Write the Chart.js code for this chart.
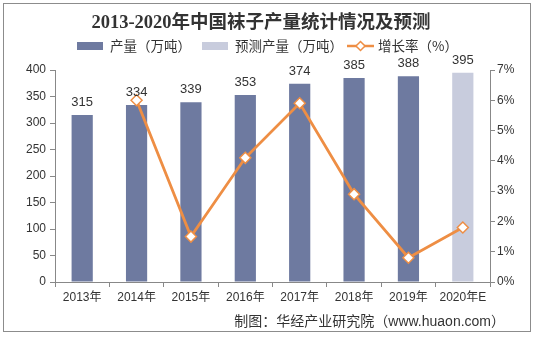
<!DOCTYPE html>
<html>
<head>
<meta charset="utf-8">
<script src="https://cdn.jsdelivr.net/npm/chart.js@4.4.0/dist/chart.umd.min.js"></script>
<style>
    html, body { margin: 0; padding: 0; background: #fff; }
    #wrap { width: 534px; height: 337px; position: relative; }
</style>
</head>
<body>
<div id="wrap"><canvas id="sockChart" width="534" height="337"></canvas></div>
<script>
const years = ['2013年', '2014年', '2015年', '2016年', '2017年', '2018年', '2019年', '2020年E'];
const output = [315, 334, 339, 353, 374, 385, 388, null];
const forecast = [null, null, null, null, null, null, null, 395];
const growth = [null, 6.0, 1.5, 4.1, 5.9, 2.9, 0.8, 1.8];
const leftTicks = [0, 50, 100, 150, 200, 250, 300, 350, 400];
const rightTicks = [0, 1, 2, 3, 4, 5, 6, 7];

const BAR = '#6E7AA0';
const BAR_E = '#C8CCDD';
const LINE = '#EE8E44';
const TXT = '#333333';
const FONT = "'Liberation Sans', Arial, 'Noto Sans CJK SC', sans-serif";

// 边框、标题、图例、数据标签、来源
const decor = {
    id: 'decor',
    afterDraw(chart) {
        const ctx = chart.ctx;
        ctx.save();
        ctx.strokeStyle = '#8c8c8c';
        ctx.lineWidth = 1;
        ctx.strokeRect(3.5, 3.5, 527, 328);

        ctx.fillStyle = '#333';
        ctx.font = "bold 18.5px 'Liberation Serif', 'DejaVu Serif', 'Noto Sans CJK SC', serif";
        ctx.textAlign = 'center';
        ctx.textBaseline = 'middle';
        ctx.fillText('2013-2020年中国袜子产量统计情况及预测', 261, 23);

        // legend
        ctx.font = "13.5px 'Noto Sans CJK SC', sans-serif";
        ctx.textAlign = 'left';
        ctx.fillStyle = BAR;
        ctx.fillRect(77, 42, 26, 8);
        ctx.fillStyle = BAR_E;
        ctx.fillRect(202, 42, 26, 8);
        ctx.strokeStyle = LINE;
        ctx.lineWidth = 2.5;
        ctx.beginPath(); ctx.moveTo(347, 46); ctx.lineTo(374, 46); ctx.stroke();
        ctx.fillStyle = '#fff';
        ctx.lineWidth = 1.5;
        ctx.beginPath();
        ctx.moveTo(360.5, 41.5); ctx.lineTo(365, 46); ctx.lineTo(360.5, 50.5); ctx.lineTo(356, 46); ctx.closePath();
        ctx.fill(); ctx.stroke();
        ctx.fillStyle = TXT;
        ctx.fillText('产量（万吨）', 110, 46);
        ctx.fillText('预测产量（万吨）', 235, 46);
        ctx.fillText('增长率（%）', 378, 46);

        // value labels
        ctx.font = '13px ' + FONT;
        ctx.textAlign = 'center';
        ctx.textBaseline = 'bottom';
        [0, 1].forEach(di => {
            chart.getDatasetMeta(di).data.forEach((bar, i) => {
                const v = chart.data.datasets[di].data[i];
                if (v == null) return;
                ctx.fillText(String(v), bar.x, bar.y - 6);
            });
        });

        ctx.font = '14px ' + FONT;
        ctx.textAlign = 'right';
        ctx.textBaseline = 'middle';
        ctx.fillText('制图：华经产业研究院（www.huaon.com）', 505, 322);
        ctx.restore();
    }
};

new Chart(document.getElementById('sockChart'), {
    type: 'bar',
    data: {
        labels: years,
        datasets: [
            { label: '产量（万吨）', data: output, backgroundColor: BAR, yAxisID: 'y', order: 2, barPercentage: 0.78, categoryPercentage: 0.5 },
            { label: '预测产量（万吨）', data: forecast, backgroundColor: BAR_E, yAxisID: 'y', order: 2, barPercentage: 0.78, categoryPercentage: 0.5 },
            {
                type: 'line', label: '增长率（%）', data: growth, yAxisID: 'y1', order: 1,
                borderColor: LINE, borderWidth: 2.8, pointStyle: 'rectRot', pointRadius: 5.5,
                pointBackgroundColor: '#fff', pointBorderColor: LINE, pointBorderWidth: 1.5,
                tension: 0, spanGaps: false
            }
        ]
    },
    options: {
        responsive: false,
        animation: false,
        layout: { padding: { top: 70, left: 0, right: 0, bottom: 0 } },
        plugins: { legend: { display: false }, title: { display: false }, tooltip: { enabled: false } },
        scales: {
            x: {
                stacked: true,
                grid: { display: true, drawOnChartArea: false, color: '#888', tickLength: 5, offset: true },
                border: { color: '#888' },
                ticks: { color: TXT, font: { size: 12, family: FONT }, padding: 3, maxRotation: 0 },
                afterFit: s => { s.height = 55; }
            },
            y: {
                stacked: true,
                min: 0, max: 400,
                afterBuildTicks: s => { s.ticks = leftTicks.map(v => ({ value: v })); },
                grid: { display: true, drawOnChartArea: false, color: '#888', tickLength: 5 },
                border: { color: '#888' },
                ticks: { color: TXT, font: { size: 12, family: FONT }, padding: 4 },
                afterFit: s => { s.width = 55; }
            },
            y1: {
                position: 'right',
                min: 0, max: 7,
                afterBuildTicks: s => { s.ticks = rightTicks.map(v => ({ value: v })); },
                grid: { display: true, drawOnChartArea: false, color: '#888', tickLength: 5 },
                border: { color: '#888' },
                ticks: { color: TXT, font: { size: 12, family: FONT }, padding: 2, callback: v => v + '%' },
                afterFit: s => { s.width = 44; }
            }
        }
    },
    plugins: [decor]
});
</script>
</body>
</html>
